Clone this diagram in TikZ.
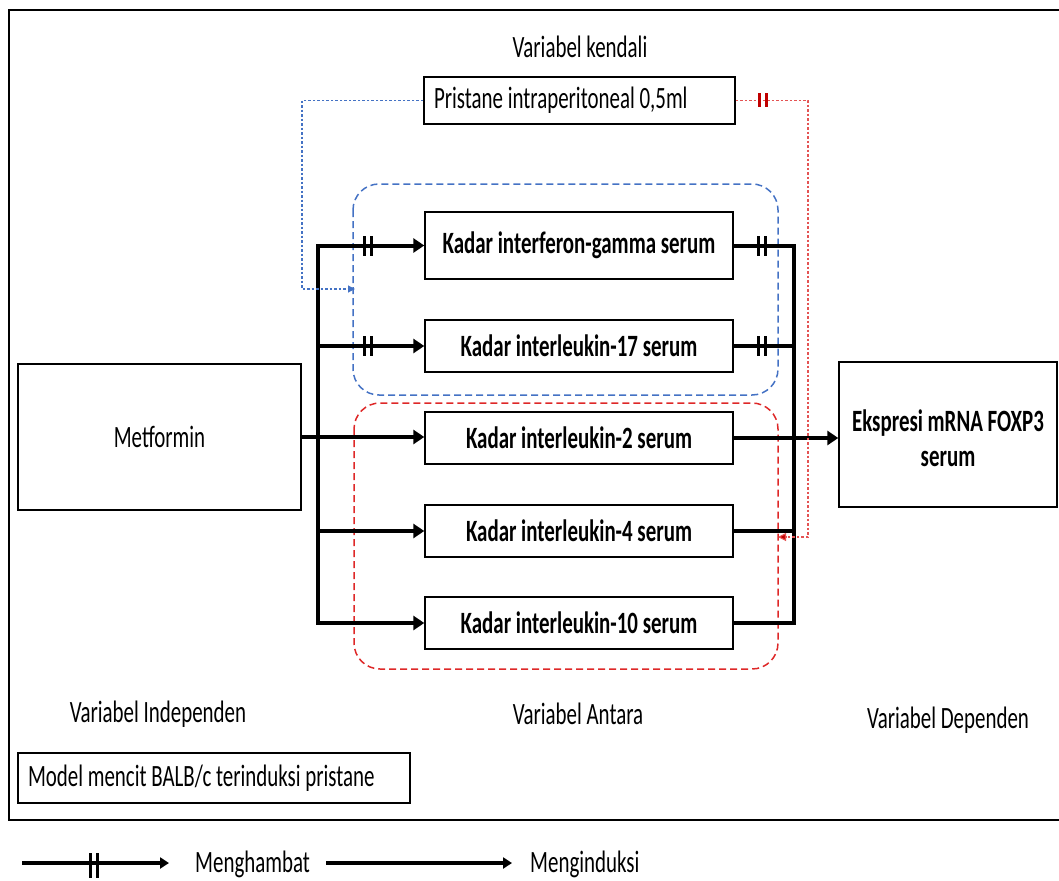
\documentclass[tikz,border=0pt]{standalone}
\usepackage{fontspec}
\setmainfont{Carlito}[FakeStretch=0.675]
\usetikzlibrary{arrows.meta}
\definecolor{blueline}{RGB}{68,114,196}
\definecolor{redline}{RGB}{222,40,40}
\definecolor{darkred}{RGB}{192,0,0}

\tikzset{
  txt/.style={font=\fontsize{31}{35}\selectfont, inner sep=0pt},
  box/.style={draw=black, line width=1.4pt, inner sep=0pt,
    font=\fontsize{31}{35}\selectfont},
  kbox/.style={box, minimum width=308pt, minimum height=52pt,
    font=\fontsize{31}{35}\selectfont\bfseries},
  conn/.style={line width=4pt, line join=miter},
  tip/.style={-{Triangle[length=11pt,width=14pt]}},
  bothtips/.style={{Triangle[length=11pt,width=14pt]}-{Triangle[length=11pt,width=14pt]}},
  group/.style={line width=1.5pt, dash pattern=on 7pt off 4pt, rounded corners=26pt},
  ctrl/.style={line width=1.1pt, dash pattern=on 2.5pt off 2pt},
  bars/.pic={\fill (-5,-10) rectangle (-2,10); \fill (2,-10) rectangle (5,10);},
  legbars/.pic={\fill (-5,-10) rectangle (-2,15); \fill (2,-10) rectangle (5,15);},
  redbars/.pic={\fill[darkred] (-5,-7) rectangle (-2,7); \fill[darkred] (2,-7) rectangle (5,7);}
}

\begin{document}
\begin{tikzpicture}[x=1pt, y=-1pt]
  \useasboundingbox (0,0) rectangle (1059,880);

  % outer frame, open on the right
  \draw[line width=1.5pt] (1075,10) -- (9,10) -- (9,820) -- (1075,820);

  % group outlines
  \draw[group, blueline] (353,184) rectangle (778,395);
  \draw[group, redline] (354,403) rectangle (778,669);

  % control variable
  \node[txt] (kendali) at (580,47) {Variabel kendali};
  \node[box, minimum width=311pt, minimum height=47pt] (pristane) at (579.5,100.5)
        {\makebox[291pt][l]{Pristane intraperitoneal 0,5ml}};

  % independent variable
  \node[box, minimum width=283pt, minimum height=146pt] (met) at (159.5,437) {Metformin};

  % intermediate variables
  \node[kbox, minimum height=67pt] (ifn) at (579,245.5) {Kadar interferon-gamma serum};
  \node[kbox] (il17) at (579,346) {Kadar interleukin-17 serum};
  \node[kbox] (il2) at (579,438) {Kadar interleukin-2 serum};
  \node[kbox] (il4) at (579,531) {Kadar interleukin-4 serum};
  \node[kbox] (il10) at (579,623) {Kadar interleukin-10 serum};

  % dependent variable (text sits a little below the box centre)
  \node[box, minimum width=218pt, minimum height=145pt,
        font=\fontsize{31}{35}\selectfont\bfseries] (eks) at (948,434.5)
        {\raisebox{-7pt}[\height][\depth]{\begin{tabular}{@{}c@{}}Ekspresi mRNA FOXP3\\serum\end{tabular}}};

  % bus coordinates
  \coordinate (lb1) at (318,245.5);
  \coordinate (lb2) at (318,346);
  \coordinate (lb4) at (318,531);
  \coordinate (lb5) at (318,623);
  \coordinate (rb1) at (794,245.5);
  \coordinate (rb2) at (794,346);
  \coordinate (rb4) at (794,531);
  \coordinate (rb5) at (794,623);

  % left distribution
  \draw[conn, bothtips] (ifn.west) -- (lb1) -- (lb5) -- (il10.west);
  \draw[conn, tip] (lb2) -- (il17.west);
  \draw[conn, tip] (lb4) -- (il4.west);
  \draw[conn, tip] (met.east) -- (met.east -| il2.west);

  % right collection
  \draw[conn] (ifn.east) -- (rb1) -- (rb5) -- (il10.east);
  \draw[conn] (il17.east) -- (rb2);
  \draw[conn] (il4.east) -- (rb4);
  \draw[conn, tip] (il2.east) -- (il2.east -| eks.west);

  % inhibition marks
  \pic at (367.5,245.5) {bars};
  \pic at (367.5,346) {bars};
  \pic at (762,245.5) {bars};
  \pic at (762,346) {bars};

  % control connectors
  \coordinate (bc1) at (302,100.5);
  \coordinate (bc2) at (302,289);
  \coordinate (bc3) at (355,289);
  \draw[ctrl, blueline, -{Triangle[length=7pt,width=7pt]}] (pristane.west) -- (bc1) -- (bc2) -- (bc3);
  \coordinate (rc1) at (808,100.5);
  \coordinate (rc2) at (808,537);
  \coordinate (rc3) at (778,537);
  \draw[ctrl, redline!80, -{Triangle[length=8pt,width=8pt,fill=darkred]}] (pristane.east) -- (rc1) -- (rc2) -- (rc3);
  \pic at (763,100.5) {redbars};

  % column captions
  \node[txt] (cap1) at (158,714) {Variabel Independen};
  \node[txt] (cap2) at (578,714) {Variabel Antara};
  \node[txt] (cap3) at (948,720) {Variabel Dependen};

  % model box
  \node[box, minimum width=392pt, minimum height=50pt] (model) at (214,778)
        {\makebox[372pt][l]{Model mencit BALB/c terinduksi pristane}};

  % legend
  \coordinate (lg1) at (22,863);
  \coordinate (lg2) at (169,863);
  \coordinate (lg3) at (326,863);
  \coordinate (lg4) at (512,863);
  \draw[conn, -{Triangle[length=9pt,width=11pt]}] (lg1) -- (lg2);
  \pic at (94,863) {legbars};
  \node[txt, anchor=west] (leg1) at (195,864) {Menghambat};
  \draw[conn, -{Triangle[length=9pt,width=11pt]}] (lg3) -- (lg4);
  \node[txt, anchor=west] (leg2) at (530,864) {Menginduksi};
\end{tikzpicture}
\end{document}
